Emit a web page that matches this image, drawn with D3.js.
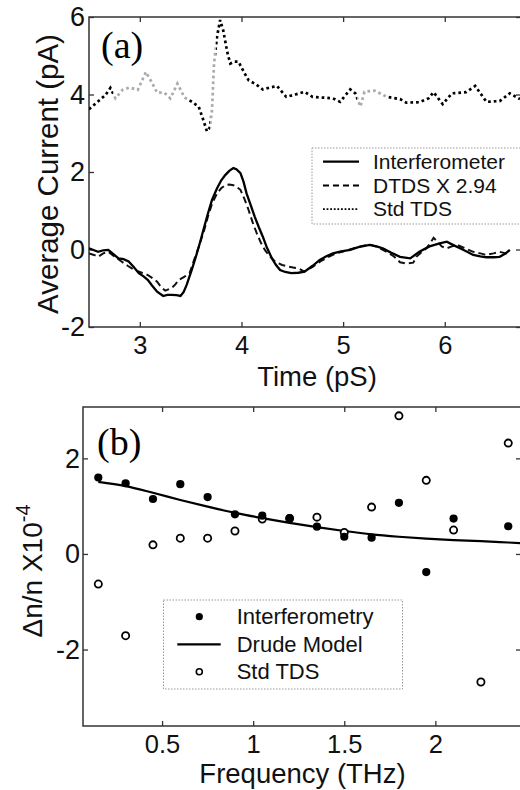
<!DOCTYPE html>
<html>
<head>
<meta charset="utf-8">
<script src="https://cdn.jsdelivr.net/npm/d3@7/dist/d3.min.js"></script>
<style>
  body { margin: 0; background: #fff; }
  svg { display: block; font-family: "Liberation Sans", Arial, sans-serif; }
</style>
</head>
<body>
<div id="chart"></div>
<script>
// ---- panel (a): traces, [time (pS), average current (pA)] ----
var interferometer = [[2.50,0.03],[2.55,-0.02],[2.59,-0.06],[2.64,-0.02],[2.69,-0.01],[2.74,-0.12],[2.79,-0.23],[2.84,-0.25],[2.89,-0.31],[2.94,-0.45],[2.99,-0.61],[3.04,-0.70],[3.08,-0.79],[3.12,-0.93],[3.17,-1.09],[3.23,-1.20],[3.27,-1.17],[3.31,-1.17],[3.36,-1.18],[3.40,-1.20],[3.43,-1.10],[3.46,-0.92],[3.51,-0.53],[3.55,-0.20],[3.59,0.16],[3.63,0.55],[3.67,0.93],[3.71,1.28],[3.76,1.58],[3.80,1.78],[3.84,1.92],[3.88,2.03],[3.92,2.10],[3.95,2.07],[3.99,1.97],[4.02,1.75],[4.05,1.45],[4.09,1.15],[4.13,0.85],[4.17,0.58],[4.21,0.33],[4.25,0.05],[4.30,-0.23],[4.34,-0.40],[4.38,-0.53],[4.43,-0.58],[4.49,-0.61],[4.56,-0.60],[4.62,-0.57],[4.70,-0.42],[4.77,-0.27],[4.84,-0.17],[4.90,-0.10],[4.98,-0.05],[5.07,-0.01],[5.15,0.06],[5.26,0.12],[5.33,0.08],[5.39,0.03],[5.47,-0.08],[5.56,-0.19],[5.66,-0.23],[5.75,-0.06],[5.85,0.08],[5.95,0.16],[6.02,0.20],[6.08,0.12],[6.15,0.03],[6.22,-0.06],[6.28,-0.14],[6.35,-0.18],[6.41,-0.20],[6.48,-0.20],[6.54,-0.19],[6.60,-0.10],[6.64,-0.01]];

var dtds = [[2.50,-0.10],[2.55,-0.14],[2.59,-0.19],[2.64,-0.10],[2.69,-0.06],[2.75,-0.18],[2.82,-0.31],[2.88,-0.42],[2.95,-0.53],[3.02,-0.60],[3.08,-0.66],[3.13,-0.75],[3.17,-0.83],[3.21,-0.97],[3.25,-1.06],[3.31,-1.00],[3.35,-0.90],[3.38,-0.79],[3.44,-0.70],[3.49,-0.61],[3.53,-0.30],[3.58,0.07],[3.63,0.47],[3.67,0.85],[3.71,1.18],[3.76,1.45],[3.80,1.58],[3.84,1.66],[3.88,1.68],[3.92,1.66],[3.95,1.62],[3.99,1.54],[4.03,1.30],[4.07,1.02],[4.11,0.70],[4.15,0.42],[4.19,0.18],[4.23,-0.01],[4.28,-0.18],[4.33,-0.31],[4.40,-0.40],[4.46,-0.44],[4.52,-0.47],[4.56,-0.49],[4.62,-0.57],[4.70,-0.45],[4.78,-0.30],[4.85,-0.20],[4.93,-0.10],[5.00,-0.05],[5.10,0.03],[5.20,0.10],[5.27,0.12],[5.35,0.05],[5.42,-0.05],[5.50,-0.18],[5.56,-0.33],[5.62,-0.36],[5.69,-0.34],[5.72,-0.19],[5.78,-0.05],[5.82,0.03],[5.86,0.18],[5.89,0.30],[5.93,0.20],[5.97,0.08],[6.02,0.03],[6.07,0.08],[6.12,0.12],[6.20,0.03],[6.28,-0.06],[6.35,-0.10],[6.41,-0.14],[6.48,-0.10],[6.54,-0.06],[6.60,-0.10],[6.64,-0.14]];

var stdTds = [[2.50,3.62],[2.58,3.80],[2.66,3.98],[2.71,4.17],[2.76,3.90],[2.83,4.12],[2.90,4.18],[2.98,4.12],[3.06,4.58],[3.12,4.30],[3.17,4.05],[3.24,4.05],[3.30,3.90],[3.37,4.28],[3.44,3.92],[3.52,3.80],[3.58,3.68],[3.63,3.30],[3.66,3.05],[3.69,3.15],[3.71,3.60],[3.73,4.80],[3.76,5.50],[3.79,5.92],[3.82,5.66],[3.86,5.10],[3.89,4.80],[3.93,4.85],[3.97,4.85],[4.03,4.55],[4.07,4.37],[4.15,4.25],[4.21,4.13],[4.28,4.18],[4.35,4.22],[4.44,3.94],[4.53,4.00],[4.62,4.07],[4.70,3.94],[4.80,3.92],[4.90,3.90],[4.97,3.81],[5.07,4.13],[5.12,4.03],[5.17,3.69],[5.21,4.07],[5.31,4.10],[5.43,3.94],[5.56,3.88],[5.62,3.79],[5.75,3.80],[5.84,3.90],[5.89,4.06],[5.98,3.75],[6.07,4.03],[6.21,4.06],[6.30,4.22],[6.41,3.81],[6.54,3.83],[6.64,4.03],[6.74,3.88]];

var timeTicks = [3, 4, 5, 6];
var currentTicks = [-2, 0, 2, 4, 6];

// ---- panel (b): index change vs frequency (x1e-4) ----
var freqs = [0.15, 0.3, 0.45, 0.6, 0.75, 0.9, 1.05, 1.2, 1.35, 1.5, 1.65, 1.8, 1.95, 2.1, 2.25, 2.4];
var interferometry = [1.60, 1.48, 1.15, 1.46, 1.19, 0.83, 0.80, 0.75, 0.57, 0.36, 0.34, 1.07, -0.38, 0.74, null, 0.58];
var stdTdsIndex = [-0.63, -1.71, 0.19, 0.33, 0.33, 0.48, 0.73, 0.74, 0.77, 0.45, 0.98, 2.89, 1.54, 0.50, -2.68, 2.32];
var drudeFreqs = [0.15, 0.3, 0.45, 0.6, 0.75, 0.9, 1.05, 1.2, 1.35, 1.5, 1.65, 1.8, 1.95, 2.1, 2.25, 2.4, 2.55];
var drudeModel = [1.51, 1.42, 1.28, 1.13, 0.99, 0.86, 0.75, 0.65, 0.56, 0.48, 0.41, 0.36, 0.32, 0.29, 0.27, 0.24, 0.21];

var freqTicks = [0.5, 1, 1.5, 2];
var indexTicks = [-2, 0, 2];

var W = 520, H = 790;
var svg = d3.select("#chart").append("svg")
    .attr("width", W).attr("height", H);

var boxA = {left: 89, right: 521, top: 17, bottom: 327};
var boxB = {left: 83, right: 521, top: 407, bottom: 726};

var xA = d3.scaleLinear().domain([2.5, 6.75]).range([boxA.left, boxA.right]);
var yA = d3.scaleLinear().domain([-2, 6]).range([boxA.bottom, boxA.top]);
var xB = d3.scaleLinear().domain([0.066, 2.47]).range([boxB.left, boxB.right]);
var yB = d3.scaleLinear().domain([-3.6, 3.075]).range([boxB.bottom, boxB.top]);

var defs = svg.append("defs");
[["clipA", boxA], ["clipB", boxB]].forEach(function (c) {
  defs.append("clipPath").attr("id", c[0]).append("rect")
      .attr("x", c[1].left).attr("y", c[1].top)
      .attr("width", c[1].right - c[1].left).attr("height", c[1].bottom - c[1].top);
});

// faded (grey) stretches of the scanned dotted trace
var greyRuns = [[2.74, 3.47], [3.695, 3.745], [5.14, 5.44]];
var grad = defs.append("linearGradient").attr("id", "stdFade")
    .attr("gradientUnits", "userSpaceOnUse")
    .attr("x1", xA(2.5)).attr("x2", xA(6.75)).attr("y1", 0).attr("y2", 0);
function off(t) { return (t - 2.5) / (6.75 - 2.5); }
greyRuns.forEach(function (r) {
  grad.append("stop").attr("offset", off(r[0])).attr("stop-color", "#000");
  grad.append("stop").attr("offset", off(r[0])).attr("stop-color", "#aaa");
  grad.append("stop").attr("offset", off(r[1])).attr("stop-color", "#aaa");
  grad.append("stop").attr("offset", off(r[1])).attr("stop-color", "#000");
});

function styleAxis(g, size) {
  g.select(".domain").remove();
  g.selectAll(".tick line").attr("stroke", "#333").attr("stroke-width", 1.3);
  g.selectAll(".tick text").attr("font-size", size).attr("fill", "#111")
      .attr("font-family", "Liberation Sans, Arial, sans-serif");
}

var hyphen = function (d) { return String(d).replace("\u2212", "-"); };

function frame(box, x, y, xt, yt, pad) {
  var g = svg.append("g");
  g.append("g").attr("transform", "translate(0," + box.bottom + ")")
      .call(d3.axisBottom(x).tickValues(xt).tickSize(-5).tickPadding(8.5).tickFormat(hyphen))
      .call(styleAxis, 25.5);
  g.append("g").attr("transform", "translate(0," + box.top + ")")
      .call(d3.axisTop(x).tickValues(xt).tickSize(-5).tickFormat(""))
      .call(styleAxis, 25.5);
  g.append("g").attr("transform", "translate(" + box.left + ",0)")
      .call(d3.axisLeft(y).tickValues(yt).tickSize(-5).tickPadding(pad).tickFormat(hyphen))
      .call(styleAxis, 27);
  g.append("g").attr("transform", "translate(" + box.right + ",0)")
      .call(d3.axisRight(y).tickValues(yt).tickSize(-5).tickFormat(""))
      .call(styleAxis, 27);
  g.append("rect")
      .attr("x", box.left).attr("y", box.top)
      .attr("width", box.right - box.left).attr("height", box.bottom - box.top)
      .attr("fill", "none").attr("stroke", "#333").attr("stroke-width", 1.5);
}

// ================= panel (a) =================
frame(boxA, xA, yA, timeTicks, currentTicks, 4);

var lineA = d3.line().x(function (d) { return xA(d[0]); }).y(function (d) { return yA(d[1]); });
var plotA = svg.append("g").attr("clip-path", "url(#clipA)");

plotA.append("path").datum(stdTds).attr("d", lineA)
    .attr("fill", "none").attr("stroke", "url(#stdFade)")
    .attr("stroke-width", 2.7).attr("stroke-dasharray", "2.7,3");
plotA.append("path").datum(dtds).attr("d", lineA)
    .attr("fill", "none").attr("stroke", "#111")
    .attr("stroke-width", 2).attr("stroke-dasharray", "7,4");
plotA.append("path").datum(interferometer).attr("d", lineA)
    .attr("fill", "none").attr("stroke", "#000").attr("stroke-width", 2.3);

svg.append("text").attr("x", 101).attr("y", 58)
    .attr("font-family", "Liberation Serif, Times New Roman, serif")
    .attr("font-size", 38).text("(a)");

// legend (a)
var legA = svg.append("g");
legA.append("rect").attr("x", 312).attr("y", 148).attr("width", 220).attr("height", 76)
    .attr("fill", "#fff").attr("stroke", "#999").attr("stroke-width", 1)
    .attr("stroke-dasharray", "1.5,1.5");
var legAItems = [
  {name: "Interferometer", dash: null, w: 2.3},
  {name: "DTDS X 2.94", dash: "6,4", w: 2},
  {name: "Std TDS", dash: "1.8,1.8", w: 1.8}
];
legAItems.forEach(function (it, i) {
  var cy = 161.7 + i * 23.7;
  legA.append("line").attr("x1", 323).attr("x2", 359).attr("y1", cy).attr("y2", cy)
      .attr("stroke", "#000").attr("stroke-width", it.w)
      .attr("stroke-dasharray", it.dash);
  legA.append("text").attr("x", 373).attr("y", cy).attr("dy", "0.35em")
      .attr("font-size", 21).attr("fill", "#111").text(it.name);
});

svg.append("text").attr("x", 317).attr("y", 385.5)
    .attr("text-anchor", "middle").attr("font-size", 27.5).attr("fill", "#111")
    .text("Time (pS)");
svg.append("text").attr("transform", "translate(58,174) rotate(-90)")
    .attr("text-anchor", "middle").attr("font-size", 29.5).attr("fill", "#111")
    .text("Average Current (pA)");

// ================= panel (b) =================
frame(boxB, xB, yB, freqTicks, indexTicks, 3);

var plotB = svg.append("g").attr("clip-path", "url(#clipB)");
var drudeData = drudeFreqs.map(function (f, i) { return [f, drudeModel[i]]; });
plotB.append("path").datum(drudeData)
    .attr("d", d3.line().curve(d3.curveMonotoneX)
        .x(function (d) { return xB(d[0]); }).y(function (d) { return yB(d[1]); }))
    .attr("fill", "none").attr("stroke", "#000").attr("stroke-width", 2.2);

var filled = freqs.map(function (f, i) { return [f, interferometry[i]]; })
    .filter(function (d) { return d[1] !== null; });
var open = freqs.map(function (f, i) { return [f, stdTdsIndex[i]]; });

svg.append("g").selectAll("circle").data(open).enter().append("circle")
    .attr("cx", function (d) { return xB(d[0]); })
    .attr("cy", function (d) { return yB(d[1]); })
    .attr("r", 3.6).attr("fill", "#fff").attr("stroke", "#000").attr("stroke-width", 1.8);
svg.append("g").selectAll("circle").data(filled).enter().append("circle")
    .attr("cx", function (d) { return xB(d[0]); })
    .attr("cy", function (d) { return yB(d[1]); })
    .attr("r", 4.1).attr("fill", "#000");

svg.append("text").attr("x", 97).attr("y", 455)
    .attr("font-family", "Liberation Serif, Times New Roman, serif")
    .attr("font-size", 38).text("(b)");

// legend (b)
var legB = svg.append("g");
legB.append("rect").attr("x", 163.5).attr("y", 600).attr("width", 239).attr("height", 89)
    .attr("fill", "#fff").attr("stroke", "#999").attr("stroke-width", 1)
    .attr("stroke-dasharray", "1.5,1.5");
var rowsB = [616.7, 644.3, 671.7];
legB.append("circle").attr("cx", 199.3).attr("cy", rowsB[0]).attr("r", 3.6).attr("fill", "#000");
legB.append("line").attr("x1", 177.3).attr("x2", 220.7).attr("y1", rowsB[1]).attr("y2", rowsB[1])
    .attr("stroke", "#000").attr("stroke-width", 2.2);
legB.append("circle").attr("cx", 199.3).attr("cy", rowsB[2]).attr("r", 3)
    .attr("fill", "#fff").attr("stroke", "#000").attr("stroke-width", 1.6);
["Interferometry", "Drude Model", "Std TDS"].forEach(function (s, i) {
  legB.append("text").attr("x", 236.7).attr("y", rowsB[i]).attr("dy", "0.35em")
      .attr("font-size", 22).attr("fill", "#111").text(s);
});

svg.append("text").attr("x", 302.5).attr("y", 783)
    .attr("text-anchor", "middle").attr("font-size", 27.5).attr("fill", "#111")
    .text("Frequency (THz)");
var yl = svg.append("text").attr("transform", "translate(42,571) rotate(-90)")
    .attr("text-anchor", "middle").attr("font-size", 28).attr("fill", "#111");
yl.append("tspan").text("\u0394n/n X10");
yl.append("tspan").attr("font-size", 20).attr("dy", -12).text("-4");
</script>
</body>
</html>
